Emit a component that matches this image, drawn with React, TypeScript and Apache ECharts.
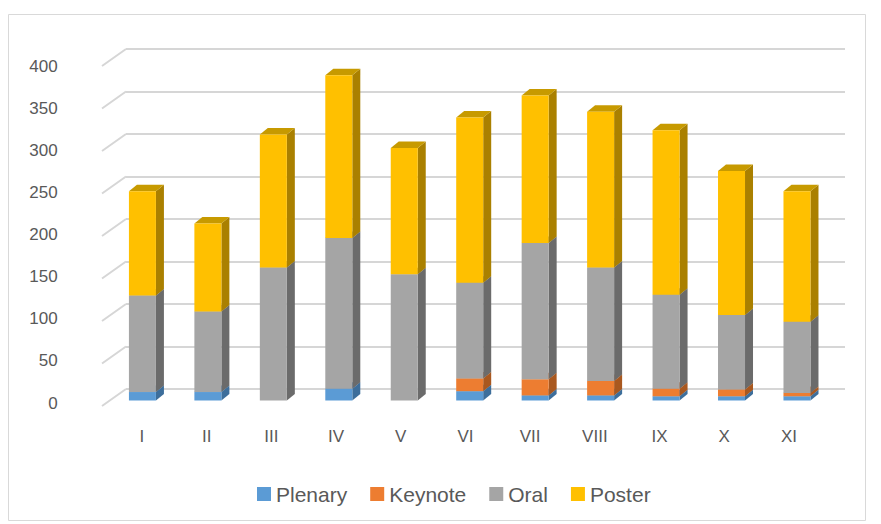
import React, { useEffect, useRef } from "react";
import * as echarts from "echarts";

const categories = ["I", "II", "III", "IV", "V", "VI", "VII", "VIII", "IX", "X", "XI"];
const seriesNames = ["Plenary", "Keynote", "Oral", "Poster"];
const plenary = [10, 10, 0, 14, 0, 11, 6, 6, 5, 5, 5];
const keynote = [0, 0, 0, 0, 0, 15, 19, 17, 9, 8, 4];
const oral = [114, 95, 157, 178, 149, 113, 161, 134, 111, 88, 84];
const poster = [123, 104, 157, 192, 149, 195, 174, 184, 194, 170, 154];
const yTicks = [0, 50, 100, 150, 200, 250, 300, 350, 400];

const palette = [
  { front: "#5b9bd5", side: "#3d6e9b", top: "#4a83b8" },
  { front: "#ed7d31", side: "#a9581f", top: "#c96a29" },
  { front: "#a5a5a5", side: "#6b6b6b", top: "#8a8a8a" },
  { front: "#ffc000", side: "#aa8000", top: "#c79a00" },
];

const DX = 8;
const DY = 6.5;

function makeRender(colors: { front: string; side: string; top: string }) {
  return (params: any, api: any) => {
    const i = api.value(0);
    const start = api.value(1);
    const end = api.value(2);
    if (!(end - start > 0)) return null;
    const pb = api.coord([i, start]);
    const pt = api.coord([i, end]);
    const bw = api.size([1, 0])[0] * 0.4125;
    const x0 = pb[0] - bw / 2;
    const x1 = x0 + bw;
    const yb = pb[1];
    const yt = pt[1];
    return {
      type: "group",
      children: [
        {
          type: "polygon",
          shape: { points: [[x1, yb], [x1, yt], [x1 + DX, yt - DY], [x1 + DX, yb - DY]] },
          style: { fill: colors.side },
        },
        {
          type: "polygon",
          shape: { points: [[x0, yt], [x1, yt], [x1 + DX, yt - DY], [x0 + DX, yt - DY]] },
          style: { fill: colors.top },
        },
        {
          type: "rect",
          shape: { x: x0, y: yt, width: bw, height: yb - yt },
          style: { fill: colors.front },
        },
      ],
    };
  };
}

export default function App() {
  const ref = useRef<HTMLDivElement>(null);
  useEffect(() => {
    if (!ref.current) return;
    const chart = echarts.init(ref.current, null, { renderer: "svg" });
    const raw = [plenary, keynote, oral, poster];
    const cum = categories.map(() => 0);
    const barSeries = raw.map((vals, si) => {
      const data = vals.map((v, i) => {
        const s = cum[i];
        cum[i] += v;
        return [i, s, s + v];
      });
      return {
        type: "custom",
        name: seriesNames[si],
        xAxisIndex: 0,
        yAxisIndex: 0,
        z: 3,
        itemStyle: { color: palette[si].front },
        encode: { x: 0, y: [1, 2] },
        renderItem: makeRender(palette[si]),
        data,
      };
    });
    const font = "'Liberation Sans', Arial, sans-serif";
    chart.setOption({
      animation: false,
      backgroundColor: "#ffffff",
      textStyle: { fontFamily: font },
      graphic: [
        {
          type: "rect",
          shape: { x: 8.5, y: 14.5, width: 857, height: 506 },
          style: { fill: "none", stroke: "#d9d9d9", lineWidth: 1 },
          z: -10,
        },
      ],
      grid: [
        { left: 109.7, top: 61.7, width: 720, height: 338.8 },
        { left: 126, top: 49, width: 719, height: 340 },
        { left: 109.6, top: 66, width: 711.7, height: 337 },
      ],
      xAxis: [
        { type: "category", gridIndex: 0, data: categories, show: false },
        { type: "value", gridIndex: 1, min: 0, max: 1, show: false },
        {
          type: "category",
          gridIndex: 2,
          data: categories,
          axisLine: { show: false },
          axisTick: { show: false },
          splitLine: { show: false },
          axisLabel: { margin: 25, fontSize: 17, color: "#595959", fontFamily: font },
        },
      ],
      yAxis: [
        { type: "value", gridIndex: 0, min: 0, max: 400, show: false },
        {
          type: "value",
          gridIndex: 1,
          min: 0,
          max: 400,
          interval: 50,
          axisLine: { show: false },
          axisTick: { show: false },
          axisLabel: { show: false },
          splitLine: { show: true, lineStyle: { color: "#d6d6d6", width: 2 } },
        },
        {
          type: "value",
          gridIndex: 2,
          min: 0,
          max: 400,
          interval: 50,
          axisLine: { show: false },
          axisTick: { show: false },
          splitLine: { show: false },
          axisLabel: { margin: 52, fontSize: 17, color: "#595959", fontFamily: font },
        },
      ],
      legend: {
        data: seriesNames,
        left: 257,
        top: 482,
        padding: 0,
        itemWidth: 14,
        itemHeight: 14,
        itemGap: 23,
        icon: "rect",
        textStyle: { fontSize: 21, color: "#595959", fontFamily: font, lineHeight: 24 },
      },
      series: [
        {
          type: "custom",
          name: "grid-diagonals",
          xAxisIndex: 1,
          yAxisIndex: 1,
          z: 1,
          silent: true,
          renderItem: (params: any, api: any) => {
            const p = api.coord([0, api.value(1)]);
            return {
              type: "line",
              shape: { x1: p[0] - 24, y1: p[1] + 17, x2: p[0], y2: p[1] },
              style: { stroke: "#d6d6d6", lineWidth: 2 },
            };
          },
          data: yTicks.map((t) => [0, t]),
        },
        ...barSeries,
      ],
    });
    return () => chart.dispose();
  }, []);
  return (
    <div
      ref={ref}
      style={{ position: "fixed", left: 0, top: 0, width: 881, height: 524 }}
    />
  );
}
